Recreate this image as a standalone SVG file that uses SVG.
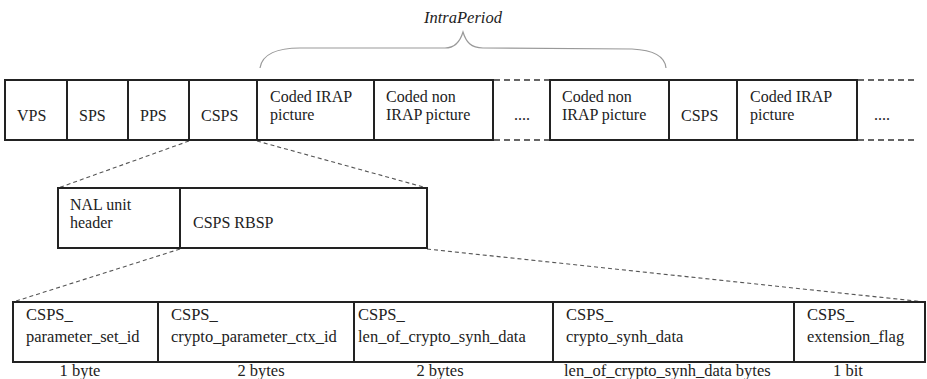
<svg xmlns="http://www.w3.org/2000/svg" width="927" height="379" viewBox="0 0 927 379" font-family="Liberation Serif, serif" font-size="16">
<style>
.box{fill:#fff;stroke:#222;stroke-width:2}
.t{fill:#222;font-family:'Liberation Serif',serif}
.b{font-size:16.5px}
.c{text-anchor:middle}
.dash{stroke:#555;stroke-width:1.1;stroke-dasharray:4 3;fill:none}
.edge{stroke:#333;stroke-width:1.6;stroke-dasharray:6 4;fill:none}
.brace{stroke:#999;stroke-width:1.2;fill:none}
</style>
<rect width="927" height="379" fill="#fff"/>
<g id="intraperiod">
<text class="t c" x="463" y="23" font-style="italic" font-size="16.5">IntraPeriod</text>
<path class="brace" d="M260,68 C262,54 278,48 300,48 L445,48 C455,48 460,42 463,32 C466,42 471,48 483,48 L632,49 C652,50 665,56 666,68"/>
</g>
<g id="connectors">
<line class="edge" x1="494" y1="80" x2="550" y2="80"/>
<line class="edge" x1="494" y1="140" x2="550" y2="140"/>
<line class="edge" x1="858" y1="80" x2="915" y2="80"/>
<line class="edge" x1="858" y1="140" x2="918" y2="140"/>
<line class="dash" x1="189" y1="141" x2="58" y2="188"/>
<line class="dash" x1="257" y1="141" x2="427" y2="188"/>
<line class="dash" x1="180" y1="249" x2="13" y2="302"/>
<line class="dash" x1="427" y1="249" x2="925" y2="302"/>
</g>
<g id="vps"><rect class="box" x="5" y="80" width="62" height="60"/><text class="t" x="17" y="121">VPS</text></g>
<g id="sps"><rect class="box" x="67" y="80" width="61" height="60"/><text class="t" x="79" y="121">SPS</text></g>
<g id="pps"><rect class="box" x="128" y="80" width="61" height="60"/><text class="t" x="140" y="121">PPS</text></g>
<g id="csps1"><rect class="box" x="189" y="80" width="68" height="60"/><text class="t" x="201" y="121">CSPS</text></g>
<g id="irap1"><rect class="box" x="257" y="80" width="117" height="60"/><text class="t" x="270" y="102">Coded IRAP</text><text class="t" x="270" y="120">picture</text></g>
<g id="nonirap1"><rect class="box" x="374" y="80" width="119" height="60"/><text class="t" x="386" y="102">Coded non</text><text class="t" x="386" y="120">IRAP picture</text></g>
<g id="dots1"><text class="t c" x="522" y="120">....</text></g>
<g id="nonirap2"><rect class="box" x="550" y="80" width="119" height="60"/><text class="t" x="562" y="102">Coded non</text><text class="t" x="562" y="120">IRAP picture</text></g>
<g id="csps2"><rect class="box" x="669" y="80" width="68" height="60"/><text class="t" x="681" y="121">CSPS</text></g>
<g id="irap2"><rect class="box" x="737" y="80" width="120" height="60"/><text class="t" x="750" y="102">Coded IRAP</text><text class="t" x="750" y="120">picture</text></g>
<g id="dots2"><text class="t c" x="882" y="120">....</text></g>
<g id="nal"><rect class="box" x="58" y="188" width="122" height="60"/><text class="t" x="70" y="210">NAL unit</text><text class="t" x="70" y="228">header</text></g>
<g id="rbsp"><rect class="box" x="180" y="188" width="247" height="60"/><text class="t" x="193" y="228">CSPS RBSP</text></g>
<g id="f1"><rect class="box" x="13" y="302" width="145" height="60"/><text class="t b" x="26" y="320">CSPS_</text><text class="t b" x="26" y="342">parameter_set_id</text><text class="t b c" x="80" y="376">1 byte</text></g>
<g id="f2"><rect class="box" x="158" y="302" width="196" height="60"/><text class="t b" x="171" y="320">CSPS_</text><text class="t b" x="171" y="342">crypto_parameter_ctx_id</text><text class="t b c" x="261" y="376">2 bytes</text></g>
<g id="f3"><rect class="box" x="354" y="302" width="199" height="60"/><text class="t b" x="358" y="320">CSPS_</text><text class="t b" x="358" y="342">len_of_crypto_synh_data</text><text class="t b c" x="440" y="376">2 bytes</text></g>
<g id="f4"><rect class="box" x="553" y="302" width="241" height="60"/><text class="t b" x="566" y="320">CSPS_</text><text class="t b" x="566" y="342">crypto_synh_data</text><text class="t b" x="564" y="376">len_of_crypto_synh_data bytes</text></g>
<g id="f5"><rect class="box" x="794" y="302" width="131" height="60"/><text class="t b" x="807" y="320">CSPS_</text><text class="t b" x="807" y="342">extension_flag</text><text class="t b c" x="848" y="376">1 bit</text></g>
</svg>
